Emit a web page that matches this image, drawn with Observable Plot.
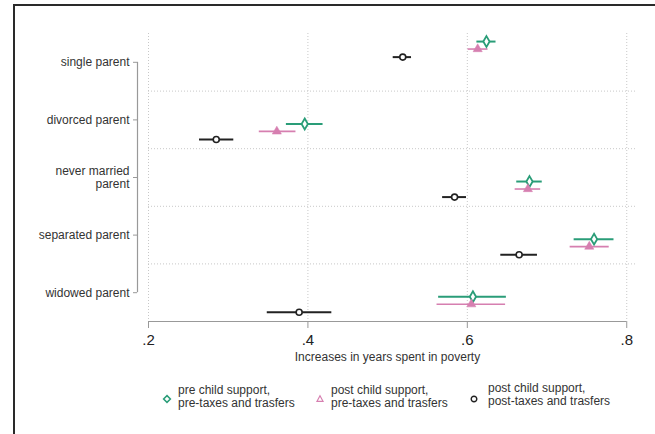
<!DOCTYPE html>
<html>
<head>
<meta charset="utf-8">
<script src="https://cdn.jsdelivr.net/npm/d3@7"></script>
<script src="https://cdn.jsdelivr.net/npm/@observablehq/plot@0.6"></script>
<style>
  html, body { margin: 0; padding: 0; background: #fff; width: 655px; height: 434px; overflow: hidden; }
  body { position: relative; font-family: "Liberation Sans", Arial, sans-serif; }
  #frame { position: absolute; left: 13px; top: 4px; width: 700px; height: 500px; border-top: 2px solid #2a2a2a; border-left: 2px solid #2a2a2a; }
  #chart { position: absolute; left: 0; top: 0; }
  .leg { position: absolute; font-size: 12px; line-height: 13px; color: #333; white-space: nowrap; }
  .sym { position: absolute; }
</style>
</head>
<body>
<div id="frame"></div>
<div id="chart"></div>
<div id="legend"></div>
<script>
// ---- data ----
const categories = ["single parent", "divorced parent", "never married\nparent", "separated parent", "widowed parent"];
const catPos = [1, 2, 3, 4, 5];
const rowShift = [-0.43, 0, 0, 0, 0];

const seriesNames = [
  "pre child support,\npre-taxes and trasfers",
  "post child support,\npre-taxes and trasfers",
  "post child support,\npost-taxes and trasfers"
];
const seriesOffset = [0.07, 0.20, 0.34];

// point estimates and confidence bounds, by category
const prePreEst = [0.624, 0.396, 0.678, 0.759, 0.607];
const prePreLo  = [0.612, 0.373, 0.662, 0.734, 0.564];
const prePreHi  = [0.636, 0.419, 0.694, 0.784, 0.649];

const postPreEst = [0.613, 0.361, 0.676, 0.753, 0.605];
const postPreLo  = [0.601, 0.339, 0.660, 0.729, 0.562];
const postPreHi  = [0.626, 0.385, 0.692, 0.778, 0.648];

const postPostEst = [0.519, 0.285, 0.584, 0.665, 0.389];
const postPostLo  = [0.507, 0.264, 0.569, 0.642, 0.349];
const postPostHi  = [0.530, 0.307, 0.599, 0.688, 0.430];

const xTicks = [0.2, 0.4, 0.6, 0.8];
const xDomain = [0.2, 0.8135];
const yDomain = [0.5, 5.5];
const bandEdges = [1.5, 2.5, 3.5, 4.5];
const xTitle = "Increases in years spent in poverty";

const colors = ["#2a9d78", "#d67fb0", "#222222"];

// ---- build table ----
const est = [prePreEst, postPreEst, postPostEst];
const lo = [prePreLo, postPreLo, postPostLo];
const hi = [prePreHi, postPreHi, postPostHi];
const rows = [];
for (let s = 0; s < 3; s++) {
  for (let i = 0; i < categories.length; i++) {
    rows.push({s, est: est[s][i], lo: lo[s][i], hi: hi[s][i], y: catPos[i] + rowShift[i] + seriesOffset[s]});
  }
}
const bySeries = s => rows.filter(d => d.s === s);

const gridStyle = {stroke: "#c8c8c8", strokeWidth: 1, strokeDasharray: "1,2"};

const plot = Plot.plot({
  width: 655,
  height: 372,
  marginLeft: 148,
  marginRight: 18,
  marginTop: 33,
  marginBottom: 51,
  style: {fontFamily: "'Liberation Sans', Arial, sans-serif", background: "transparent"},
  x: {domain: xDomain},
  y: {domain: yDomain, reverse: true},
  marks: [
    // grid
    Plot.ruleX(xTicks, {y1: yDomain[0], y2: yDomain[1], ...gridStyle}),
    Plot.ruleY(bandEdges, {x1: xDomain[0], x2: xDomain[1], ...gridStyle}),
    // x axis
    Plot.ruleY([yDomain[1]], {x1: xTicks[0], x2: xTicks[xTicks.length - 1], stroke: "#999", strokeWidth: 1.2}),
    Plot.axisX({ticks: xTicks, tickFormat: d => String(d).replace(/^0/, ""), tickSize: 7, tickPadding: 6, fontSize: 15, stroke: "#999", color: "#222", label: null}),
    Plot.text([xTitle], {x: xTicks[0], frameAnchor: "bottom", dx: 239, dy: 39, fontSize: 12, fill: "#333", textAnchor: "middle"}),
    // y axis
    Plot.ruleX([xTicks[0]], {y1: catPos[0], y2: catPos[catPos.length - 1], dx: -11, stroke: "#999", strokeWidth: 1.2}),
    Plot.axisY({ticks: catPos, tickFormat: i => categories[i - 1], tickSize: 4, tickPadding: 4, dx: -11, fontSize: 12, stroke: "#999", color: "#333", label: null, lineHeight: 1.05}),
    // CIs
    Plot.ruleY(bySeries(0), {y: "y", x1: "lo", x2: "hi", stroke: colors[0], strokeWidth: 2}),
    Plot.ruleY(bySeries(1), {y: "y", x1: "lo", x2: "hi", stroke: colors[1], strokeWidth: 1.6}),
    Plot.ruleY(bySeries(2), {y: "y", x1: "lo", x2: "hi", stroke: colors[2], strokeWidth: 2}),
    // points
    Plot.dot(bySeries(0), {x: "est", y: "y", symbol: "diamond", r: 3.3, stroke: colors[0], strokeWidth: 1.8, fill: "#fff"}),
    Plot.dot(bySeries(1), {x: "est", y: "y", symbol: "triangle", r: 3.4, fill: colors[1], stroke: colors[1], strokeWidth: 0.5}),
    Plot.dot(bySeries(2), {x: "est", y: "y", symbol: "circle", r: 3, stroke: colors[2], strokeWidth: 1.6, fill: "#fff"})
  ]
});
document.getElementById("chart").appendChild(plot);

// ---- legend ----
const legend = document.getElementById("legend");
const legPos = [
  {mx: 167, my: 397, tx: 178, ty: 384},
  {mx: 320, my: 397, tx: 331, ty: 384},
  {mx: 474, my: 397, tx: 488, ty: 382}
];
const symbolSvgs = [
  `<svg width="12" height="12" viewBox="-6 -6 12 12"><path d="M0,-3.4L3.4,0L0,3.4L-3.4,0Z" fill="#fff" stroke="${colors[0]}" stroke-width="1.5"/></svg>`,
  `<svg width="12" height="12" viewBox="-6 -6 12 12"><path d="M0,-3.2L3,2.3L-3,2.3Z" fill="#fff" stroke="${colors[1]}" stroke-width="1.2"/></svg>`,
  `<svg width="12" height="12" viewBox="-6 -6 12 12"><circle r="2.8" fill="#fff" stroke="${colors[2]}" stroke-width="1.4"/></svg>`
];
seriesNames.forEach((name, s) => {
  const p = legPos[s];
  const sym = document.createElement("div");
  sym.className = "sym";
  sym.style.left = (p.mx - 6) + "px";
  sym.style.top = (p.my - 6) + "px";
  sym.innerHTML = symbolSvgs[s];
  legend.appendChild(sym);
  const t = document.createElement("div");
  t.className = "leg";
  t.style.left = p.tx + "px";
  t.style.top = p.ty + "px";
  t.innerHTML = name.split("\n").join("<br>");
  legend.appendChild(t);
});
</script>
</body>
</html>
